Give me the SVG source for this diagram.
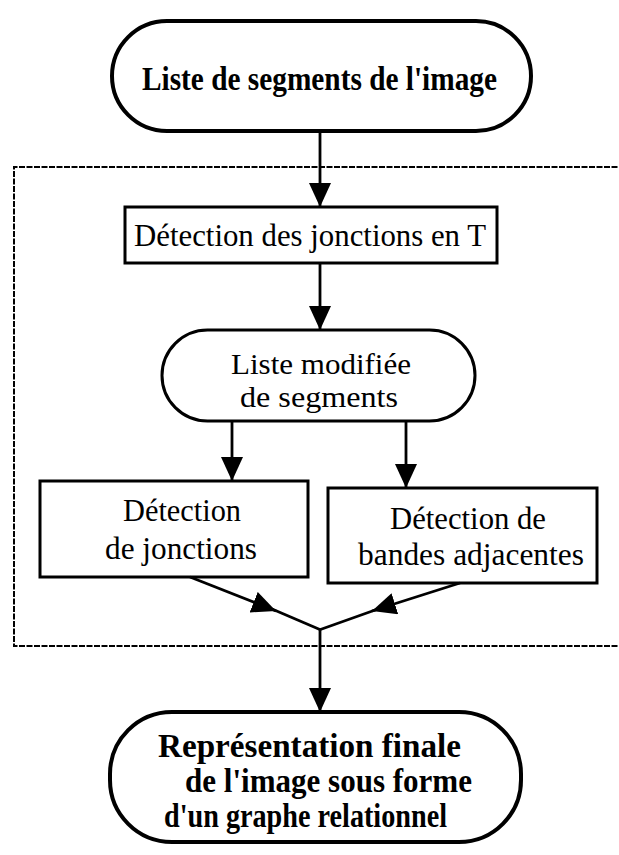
<svg xmlns="http://www.w3.org/2000/svg" width="619" height="855" viewBox="0 0 619 855">
<style>
.term{fill:#fff;stroke:#000;stroke-width:4}
.proc{fill:#fff;stroke:#000;stroke-width:3}
.bt{font-family:"Liberation Serif","Times New Roman",serif;font-weight:bold;font-size:34px;fill:#000}
.rt{font-family:"Liberation Serif","Times New Roman",serif;font-size:31px;fill:#000}
.edge{stroke:#000;stroke-width:2.8;fill:none}
.frame{fill:none;stroke:#000;stroke-width:2;stroke-dasharray:6 1.5}
</style>
<defs>
<marker id="ah" markerUnits="userSpaceOnUse" markerWidth="24" markerHeight="22" refX="24" refY="11" orient="auto">
<path d="M0,0 L24,11 L0,22 z" fill="#000"/>
</marker>
</defs>
<rect width="619" height="855" fill="#fff"/>
<path class="frame" d="M625,167 L14,167 L14,646 L625,646"/>
<g id="n1">
<rect class="term" x="112" y="21" width="419" height="110" rx="55"/>
<text class="bt" x="142" y="90" textLength="355" lengthAdjust="spacingAndGlyphs">Liste de segments de l'image</text>
</g>
<g id="n2">
<rect class="proc" x="125" y="207" width="372" height="56"/>
<text class="rt" x="134" y="246" textLength="352" lengthAdjust="spacingAndGlyphs">Détection des jonctions en T</text>
</g>
<g id="n3">
<rect class="term" style="stroke-width:3" x="162" y="330" width="313" height="91" rx="45.5"/>
<text class="rt" style="font-size:29.5px" x="231" y="374" textLength="180" lengthAdjust="spacingAndGlyphs">Liste modifiée</text>
<text class="rt" style="font-size:29.5px" x="240" y="407" textLength="158" lengthAdjust="spacingAndGlyphs">de segments</text>
</g>
<g id="n4">
<rect class="proc" x="40" y="481" width="268" height="96"/>
<text class="rt" x="123" y="521" textLength="118" lengthAdjust="spacingAndGlyphs">Détection</text>
<text class="rt" x="105" y="559" textLength="152" lengthAdjust="spacingAndGlyphs">de jonctions</text>
</g>
<g id="n5">
<rect class="proc" x="328" y="488" width="269" height="95"/>
<text class="rt" x="390" y="529" textLength="156" lengthAdjust="spacingAndGlyphs">Détection de</text>
<text class="rt" x="358" y="565" textLength="226" lengthAdjust="spacingAndGlyphs">bandes adjacentes</text>
</g>
<g id="n6">
<rect class="term" x="110" y="712" width="411" height="130" rx="62"/>
<text class="bt" x="158" y="757" textLength="303" lengthAdjust="spacingAndGlyphs">Représentation finale</text>
<text class="bt" x="185" y="792" textLength="287" lengthAdjust="spacingAndGlyphs">de l'image  sous forme</text>
<text class="bt" x="164" y="827" textLength="283" lengthAdjust="spacingAndGlyphs">d'un graphe relationnel</text>
</g>
<g id="edges">
<line class="edge" x1="320" y1="131" x2="320" y2="207" marker-end="url(#ah)"/>
<line class="edge" x1="320" y1="263" x2="320" y2="330" marker-end="url(#ah)"/>
<line class="edge" x1="232" y1="421" x2="232" y2="481" marker-end="url(#ah)"/>
<line class="edge" x1="406" y1="421" x2="406" y2="488" marker-end="url(#ah)"/>
<line class="edge" x1="190" y1="577" x2="276" y2="611" marker-end="url(#ah)"/>
<line class="edge" x1="272" y1="609" x2="321" y2="630"/>
<line class="edge" x1="460" y1="583" x2="372" y2="611" marker-end="url(#ah)"/>
<line class="edge" x1="378" y1="609" x2="319" y2="630"/>
<line class="edge" x1="320" y1="629" x2="320" y2="712" marker-end="url(#ah)"/>
</g>
</svg>
